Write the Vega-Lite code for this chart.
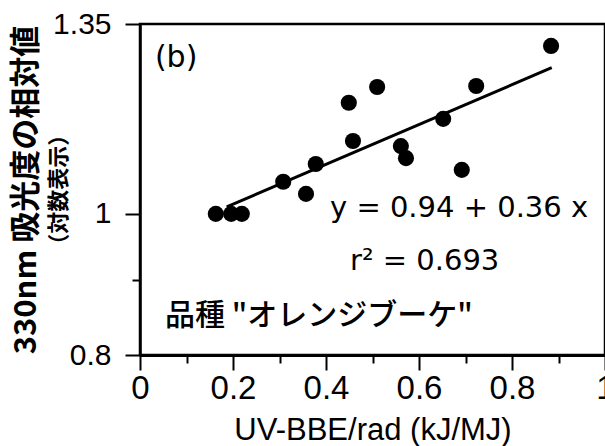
{
  "$schema": "https://vega.github.io/schema/vega-lite/v6.json",
  "usermeta": {"embedOptions": {"actions": false}},
  "autosize": {"type": "none"},
  "padding": {"left": 140, "top": 24, "right": 0, "bottom": 91},
  "width": 465,
  "height": 331,
  "background": "white",
  "config": {
    "view": {"stroke": "black", "strokeWidth": 2.5},
    "axis": {"grid": false, "domainColor": "black", "tickColor": "black", "labelColor": "black", "titleColor": "black", "labelFont": "Liberation Sans", "titleFontWeight": "normal"}
  },
  "layer": [
    {
      "data": {"values": [
        {"uv": 0.163, "abs": 1.0},
        {"uv": 0.196, "abs": 1.0},
        {"uv": 0.219, "abs": 1.0},
        {"uv": 0.308, "abs": 1.052},
        {"uv": 0.357, "abs": 1.032},
        {"uv": 0.378, "abs": 1.082},
        {"uv": 0.458, "abs": 1.122},
        {"uv": 0.449, "abs": 1.192},
        {"uv": 0.510, "abs": 1.222},
        {"uv": 0.561, "abs": 1.113},
        {"uv": 0.572, "abs": 1.092},
        {"uv": 0.652, "abs": 1.162},
        {"uv": 0.692, "abs": 1.072},
        {"uv": 0.723, "abs": 1.224},
        {"uv": 0.884, "abs": 1.304}
      ]},
      "mark": {"type": "circle", "size": 260, "color": "black", "opacity": 1},
      "encoding": {
        "x": {
          "field": "uv", "type": "quantitative",
          "scale": {"domain": [0, 1], "nice": false, "zero": false},
          "axis": {
            "title": "UV-BBE/rad (kJ/MJ)",
            "titleFont": "Liberation Sans", "titleFontSize": 31,
            "titleBaseline": "alphabetic", "titleY": 84,
            "values": [0, 0.1, 0.2, 0.3, 0.4, 0.5, 0.6, 0.7, 0.8, 0.9, 1],
            "labelExpr": "round(datum.value*10) % 2 == 1 ? '' : format(datum.value, '~g')",
            "labelFontSize": 33, "labelPadding": 2, "labelFlush": false, "labelOverlap": false,
            "domainWidth": 3, "tickWidth": 2,
            "tickSize": {"condition": {"test": "round(datum.value*10) % 2 == 1", "value": 8}, "value": 15}
          }
        },
        "y": {
          "field": "abs", "type": "quantitative",
          "scale": {"type": "log", "domain": [0.8, 1.35], "nice": false, "zero": false},
          "axis": {
            "title": "330nm 吸光度の相対値",
            "titleFont": "Noto Sans CJK JP", "titleFontSize": 31, "titleFontWeight": "bold",
            "titleAngle": -90, "titleBaseline": "middle", "titleAlign": "center",
            "titleX": -114, "titleY": 165.5,
            "values": [0.8, 0.9, 1, 1.35],
            "labelExpr": "datum.value == 0.9 ? '' : format(datum.value, '~g')",
            "labelFontSize": 30, "labelPadding": 14, "labelFlush": false, "labelOverlap": false,
            "domainWidth": 2.5, "tickWidth": 2,
            "tickSize": {"condition": {"test": "datum.value == 0.9", "value": 8}, "value": 15}
          }
        }
      }
    },
    {
      "data": {"values": [
        {"uv": 0.1865, "abs": 1.011},
        {"uv": 0.8854, "abs": 1.26}
      ]},
      "mark": {"type": "line", "color": "black", "strokeWidth": 3},
      "encoding": {
        "x": {"field": "uv", "type": "quantitative"},
        "y": {"field": "abs", "type": "quantitative"}
      }
    },
    {
      "data": {"values": [{"uv": 0.032, "abs": 1.279, "label": "(b)"}]},
      "mark": {"type": "text", "font": "DejaVu Sans", "fontSize": 30, "align": "left", "baseline": "middle", "color": "black"},
      "encoding": {
        "x": {"field": "uv", "type": "quantitative"},
        "y": {"field": "abs", "type": "quantitative"},
        "text": {"field": "label"}
      }
    },
    {
      "data": {"values": [
        {"uv": 0.4086, "abs": 0.995, "label": "y = 0.94 + 0.36 x"},
        {"uv": 0.4516, "abs": 0.9151, "label": "r² = 0.693"}
      ]},
      "mark": {"type": "text", "font": "DejaVu Sans", "fontSize": 29, "align": "left", "baseline": "alphabetic", "color": "black"},
      "encoding": {
        "x": {"field": "uv", "type": "quantitative"},
        "y": {"field": "abs", "type": "quantitative"},
        "text": {"field": "label"}
      }
    },
    {
      "data": {"values": [{"uv": 0.0538, "abs": 0.8389, "label": "品種 \"オレンジブーケ\""}]},
      "mark": {"type": "text", "font": "Noto Sans CJK JP", "fontSize": 30, "fontWeight": 500, "align": "left", "baseline": "alphabetic", "color": "black"},
      "encoding": {
        "x": {"field": "uv", "type": "quantitative"},
        "y": {"field": "abs", "type": "quantitative"},
        "text": {"field": "label"}
      }
    },
    {
      "data": {"values": [{"uv": -0.174, "abs": 1.039, "label": "（対数表示）"}]},
      "mark": {"type": "text", "font": "Noto Sans CJK JP", "fontSize": 22, "fontWeight": "bold", "align": "center", "baseline": "middle", "angle": 270, "color": "black"},
      "encoding": {
        "x": {"field": "uv", "type": "quantitative"},
        "y": {"field": "abs", "type": "quantitative"},
        "text": {"field": "label"}
      }
    }
  ]
}
